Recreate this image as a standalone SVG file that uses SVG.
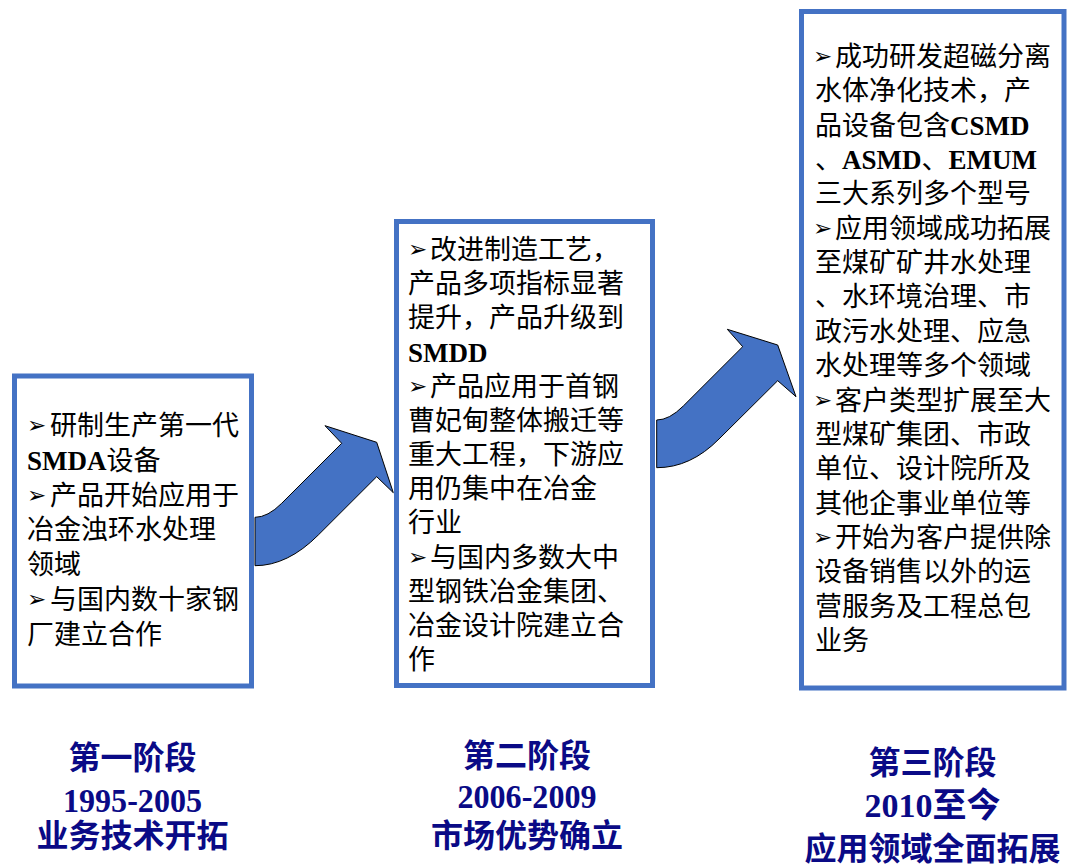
<svg xmlns="http://www.w3.org/2000/svg" width="1067" height="865" viewBox="0 0 1067 865">
<style>
.box{fill:#fff;stroke:#4472C4;stroke-width:5}
.arrow{fill:#4472C4;stroke:#000;stroke-width:1;stroke-linejoin:miter}
.t{font-family:"Liberation Serif","Noto Sans CJK SC",serif;font-size:27px;fill:#000}
.b{font-family:"DejaVu Sans","Noto Sans CJK SC",sans-serif;font-size:23px;font-weight:bold}
.en{font-family:"Liberation Serif",serif;font-weight:bold}
.lab{font-family:"Liberation Serif","Noto Sans CJK SC",serif;font-size:32px;font-weight:bold;fill:#0a0a86;text-anchor:middle}
.num{font-size:34px}
</style>
<rect width="1067" height="865" fill="#fff"/>
<g id="connectors">
<path class="arrow" d="M255,565.7 L255,517.3 Q267.7,517.3 281.7,503.3 L341.7,443.3 L325,425.7 L376.7,442.3 L393.3,492.7 L376.7,476.7 L318.3,535 Q287.7,565.7 255,565.7 Z"/>
<path class="arrow" d="M656.7,467.7 L656.7,420 Q669.3,420 683.3,406 L742.7,346.7 L727.3,329.3 L777.7,345 L796,396.7 L777.7,380.7 L719,439 Q690.7,467.7 656.7,467.7 Z"/>
</g>
<g id="stage1">
<rect class="box" x="14.5" y="376" width="237" height="310"/>
<text class="t"><tspan class="b" x="27" y="433">➢</tspan><tspan x="50" y="435">研制生产第一代</tspan></text>
<text class="t" x="27" y="470"><tspan class="en">SMDA</tspan>设备</text>
<text class="t"><tspan class="b" x="27" y="502.5">➢</tspan><tspan x="50" y="504.5">产品开始应用于</tspan></text>
<text class="t" x="27" y="539">冶金浊环水处理</text>
<text class="t" x="27" y="574">领域</text>
<text class="t"><tspan class="b" x="27" y="607">➢</tspan><tspan x="50" y="609">与国内数十家钢</tspan></text>
<text class="t" x="27" y="644">厂建立合作</text>
</g>
<g id="stage2">
<rect class="box" x="396.5" y="221.5" width="256" height="464"/>
<text class="t"><tspan class="b" x="408" y="257">➢</tspan><tspan x="430" y="259">改进制造工艺，</tspan></text>
<text class="t" x="408" y="293.2">产品多项指标显著</text>
<text class="t" x="408" y="327.3">提升，产品升级到</text>
<text class="t" x="408" y="361.5"><tspan class="en">SMDD</tspan></text>
<text class="t"><tspan class="b" x="408" y="393.7">➢</tspan><tspan x="430" y="395.7">产品应用于首钢</tspan></text>
<text class="t" x="408" y="429.9">曹妃甸整体搬迁等</text>
<text class="t" x="408" y="464">重大工程，下游应</text>
<text class="t" x="408" y="498.2">用仍集中在冶金</text>
<text class="t" x="408" y="532.4">行业</text>
<text class="t"><tspan class="b" x="408" y="564.5">➢</tspan><tspan x="430" y="566.5">与国内多数大中</tspan></text>
<text class="t" x="408" y="600.7">型钢铁冶金集团、</text>
<text class="t" x="408" y="634.9">冶金设计院建立合</text>
<text class="t" x="408" y="669">作</text>
</g>
<g id="stage3">
<rect class="box" x="801.5" y="11.5" width="262.5" height="676.5"/>
<text class="t"><tspan class="b" x="813" y="64">➢</tspan><tspan x="835" y="66">成功研发超磁分离</tspan></text>
<text class="t" x="815" y="100.35">水体净化技术，产</text>
<text class="t" x="815" y="134.7">品设备包含<tspan class="en">CSMD</tspan></text>
<text class="t" x="815" y="169.05">、<tspan class="en">ASMD</tspan>、<tspan class="en">EMUM</tspan></text>
<text class="t" x="815" y="203.4">三大系列多个型号</text>
<text class="t"><tspan class="b" x="813" y="235.75">➢</tspan><tspan x="835" y="237.75">应用领域成功拓展</tspan></text>
<text class="t" x="815" y="272.1">至煤矿矿井水处理</text>
<text class="t" x="815" y="306.45">、水环境治理、市</text>
<text class="t" x="815" y="340.8">政污水处理、应急</text>
<text class="t" x="815" y="375.15">水处理等多个领域</text>
<text class="t"><tspan class="b" x="813" y="407.5">➢</tspan><tspan x="835" y="409.5">客户类型扩展至大</tspan></text>
<text class="t" x="815" y="443.85">型煤矿集团、市政</text>
<text class="t" x="815" y="478.2">单位、设计院所及</text>
<text class="t" x="815" y="512.55">其他企事业单位等</text>
<text class="t"><tspan class="b" x="813" y="544.9">➢</tspan><tspan x="835" y="546.9">开始为客户提供除</tspan></text>
<text class="t" x="815" y="581.25">设备销售以外的运</text>
<text class="t" x="815" y="615.6">营服务及工程总包</text>
<text class="t" x="815" y="650">业务</text>
</g>
<g id="label1">
<text class="lab" x="132.5" y="769">第一阶段</text>
<text class="lab num" x="132.5" y="812" textLength="139" lengthAdjust="spacingAndGlyphs">1995-2005</text>
<text class="lab" x="132.5" y="847">业务技术开拓</text>
</g>
<g id="label2">
<text class="lab" x="527" y="767">第二阶段</text>
<text class="lab num" x="527" y="808" textLength="139" lengthAdjust="spacingAndGlyphs">2006-2009</text>
<text class="lab" x="527" y="847">市场优势确立</text>
</g>
<g id="label3">
<text class="lab" x="932.5" y="774">第三阶段</text>
<text class="lab num" x="932.5" y="817">2010至今</text>
<text class="lab" x="932.5" y="860">应用领域全面拓展</text>
</g>
</svg>
